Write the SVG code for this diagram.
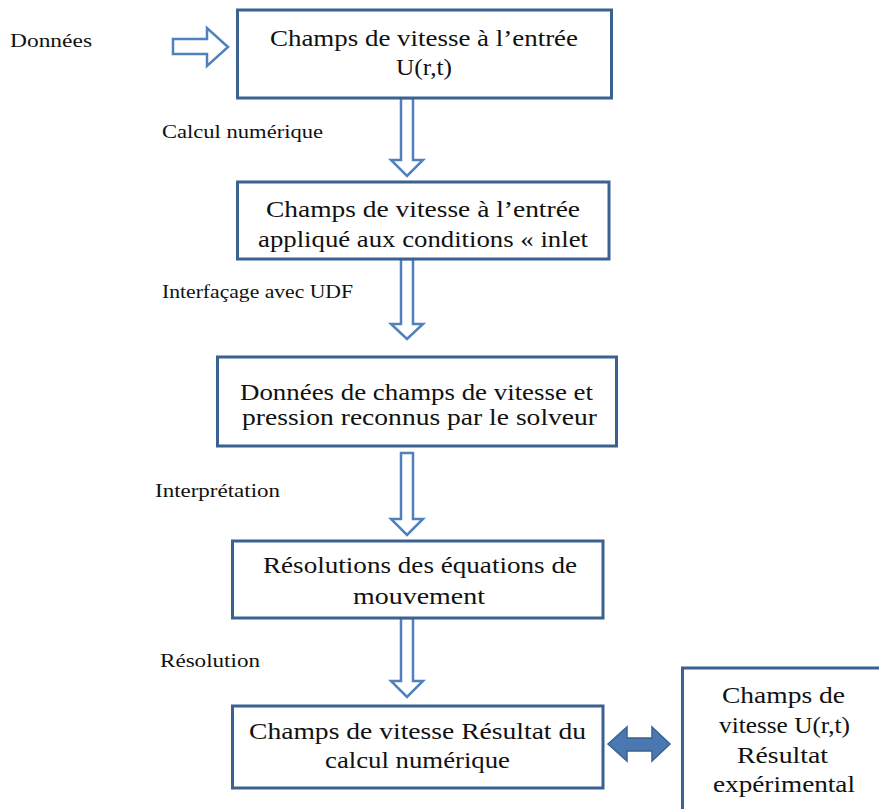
<svg xmlns="http://www.w3.org/2000/svg" width="879" height="809" viewBox="0 0 879 809">
<style>
.box{fill:#fff;stroke:#3b6190;stroke-width:3}
text{font-family:'Liberation Serif','Times New Roman',serif;fill:#111}
.t{font-size:24px}
.l{font-size:18px}
.ha{fill:#fff;stroke:#4f81bd;stroke-width:2.5;stroke-linejoin:miter}
.da{fill:#4a78b0;stroke:#3b6190;stroke-width:1.5}
</style>
<rect width="879" height="809" fill="#fff"/>
<g id="labels">
<text class="l" x="10" y="47" textLength="82" lengthAdjust="spacingAndGlyphs">Données</text>
<text class="l" x="162" y="138" textLength="161" lengthAdjust="spacingAndGlyphs">Calcul numérique</text>
<text class="l" x="162" y="298" textLength="191" lengthAdjust="spacingAndGlyphs">Interfaçage avec UDF</text>
<text class="l" x="155" y="497" textLength="125" lengthAdjust="spacingAndGlyphs">Interprétation</text>
<text class="l" x="160" y="667" textLength="100" lengthAdjust="spacingAndGlyphs">Résolution</text>
</g>
<g id="connectors">
<path class="ha" d="M173,39 H207 V28 L228,47 L207,66 V54 H173 Z"/>
<path class="ha" d="M401,98 H413 V160 H423 L407,176 L391,160 H401 Z"/>
<path class="ha" d="M401,259 H413 V324 H423 L407,339 L391,324 H401 Z"/>
<path class="ha" d="M401,453 H413 V519 H423 L407,535 L391,519 H401 Z"/>
<path class="ha" d="M401,618 H413 V681 H423 L407,697 L391,681 H401 Z"/>
<path class="da" d="M608,744 L627,727 V738 H652 V727 L670,744 L652,761 V751 H627 V761 Z"/>
</g>
<g id="n1">
<rect class="box" x="237.5" y="10" width="374" height="88"/>
<text class="t" x="270" y="46" textLength="308" lengthAdjust="spacingAndGlyphs">Champs de vitesse à l’entrée</text>
<text class="t" x="396" y="75" textLength="56" lengthAdjust="spacingAndGlyphs">U(r,t)</text>
</g>
<g id="n2">
<rect class="box" x="237.5" y="182" width="371.5" height="77"/>
<text class="t" x="266" y="217" textLength="314" lengthAdjust="spacingAndGlyphs">Champs de vitesse  à l’entrée</text>
<text class="t" x="258" y="247" textLength="330" lengthAdjust="spacingAndGlyphs">appliqué aux  conditions « inlet</text>
</g>
<g id="n3">
<rect class="box" x="217.5" y="357" width="399" height="89"/>
<text class="t" x="240" y="400" textLength="353" lengthAdjust="spacingAndGlyphs">Données de champs de vitesse et</text>
<text class="t" x="242" y="425" textLength="355" lengthAdjust="spacingAndGlyphs">pression reconnus par le solveur</text>
</g>
<g id="n4">
<rect class="box" x="232.5" y="541" width="370.5" height="77"/>
<text class="t" x="263" y="573" textLength="314" lengthAdjust="spacingAndGlyphs">Résolutions des équations de</text>
<text class="t" x="353" y="604" textLength="132" lengthAdjust="spacingAndGlyphs">mouvement</text>
</g>
<g id="n5">
<rect class="box" x="232.5" y="706" width="370.5" height="82"/>
<text class="t" x="249" y="739" textLength="337" lengthAdjust="spacingAndGlyphs">Champs de vitesse  Résultat du</text>
<text class="t" x="325" y="768" textLength="185" lengthAdjust="spacingAndGlyphs">calcul numérique</text>
</g>
<g id="n6">
<rect class="box" x="682.5" y="668" width="210" height="160"/>
<text class="t" x="722" y="703" textLength="123" lengthAdjust="spacingAndGlyphs">Champs de</text>
<text class="t" x="719" y="733" textLength="131" lengthAdjust="spacingAndGlyphs">vitesse U(r,t)</text>
<text class="t" x="737" y="763" textLength="91" lengthAdjust="spacingAndGlyphs">Résultat</text>
<text class="t" x="713" y="792" textLength="142" lengthAdjust="spacingAndGlyphs">expérimental</text>
</g>
</svg>
